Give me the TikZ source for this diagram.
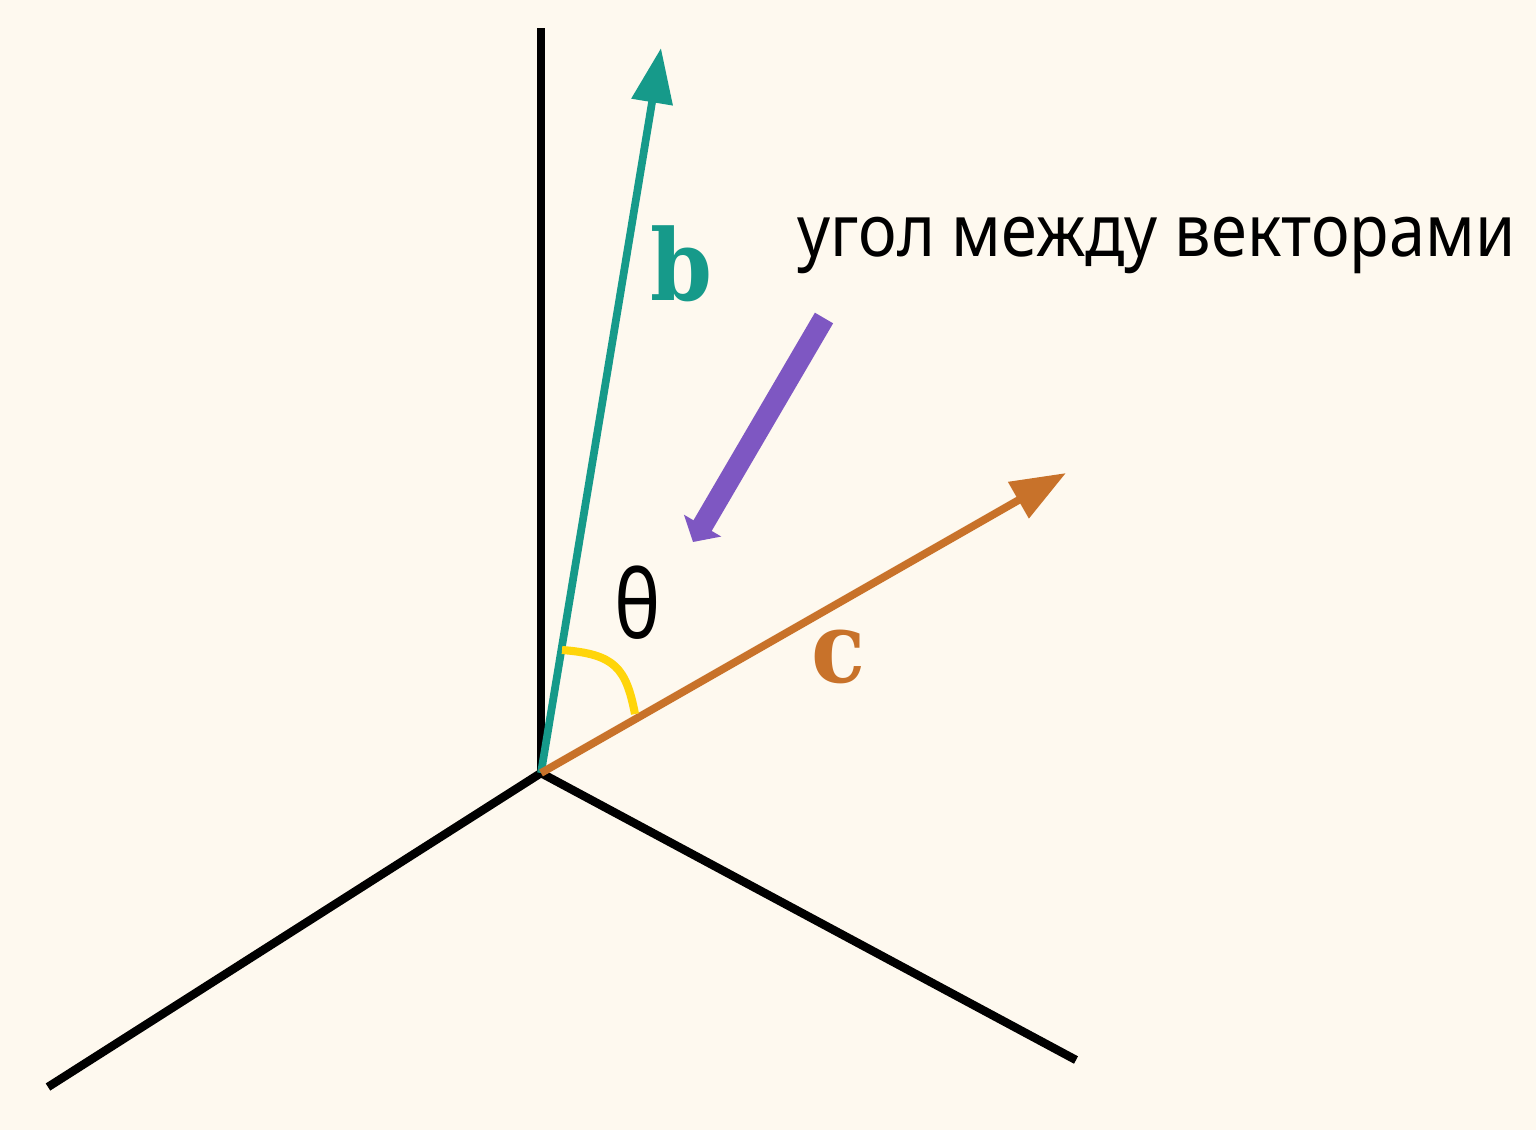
\documentclass[tikz,border=0pt]{standalone}
\usepackage{fontspec}
\setmainfont{Noto Sans}
\newfontfamily\lblfont{DejaVu Serif Condensed}
\usetikzlibrary{arrows.meta}
\definecolor{bgcream}{HTML}{FEF9EF}
\definecolor{teal1}{HTML}{169A8A}
\definecolor{orange1}{HTML}{C8722A}
\definecolor{purple1}{HTML}{7E57C2}
\definecolor{yellow1}{HTML}{FFD50A}
\begin{document}
\begin{tikzpicture}[x=0.01cm,y=-0.01cm,
  axis/.style={line width=2.4pt,black},
  vecb/.style={line width=2.2pt,teal1,-{Triangle[length=15.6pt,width=11.4pt]}},
  vecc/.style={line width=2.2pt,orange1,-{Triangle[length=15.6pt,width=11.4pt]}},
  pointer/.style={line width=6pt,purple1,-{Triangle[length=5.4pt,width=12pt]}},
  anglemark/.style={line width=2.3pt,yellow1},
  veclabel/.style={font=\lblfont\bfseries\fontsize{28}{30}\selectfont},
  plaintext/.style={font=\fontsize{20.5}{24}\selectfont,inner sep=0pt,xscale=0.9,transform shape}]
\fill[bgcream] (0,0) rectangle (1536,1130);
\useasboundingbox (0,0) rectangle (1536,1130);
\coordinate (O) at (541,773);
\coordinate (up) at (541,28);
\coordinate (left) at (48,1087);
\coordinate (right) at (1076,1060);
\coordinate (btip) at (661,48);
\coordinate (ctip) at (1066,473);
\coordinate (pstart) at (824,318);
\coordinate (pend) at (693,542);
\coordinate (a1) at (562,650);
\coordinate (a2) at (635,714);
\draw[axis] (up) -- (O);
\draw[axis] (left) -- (O) -- (right);
\draw[vecb] (O) -- (btip);
\draw[vecc] (O) -- (ctip);
\draw[anglemark] (a1) .. controls (615,654) and (626,668) .. (a2);
\draw[pointer] (pstart) -- (pend);
\node[veclabel,text=teal1] (lb) at (681,264) {b};
\node[veclabel,text=orange1] (lc) at (838,657) {c};
\node[font=\fontsize{27}{30}\selectfont,xscale=0.82,transform shape] (th) at (638,603) {θ};
\node[plaintext,anchor=west] (txt) at (797,245) {угол между векторами};
\end{tikzpicture}
\end{document}
